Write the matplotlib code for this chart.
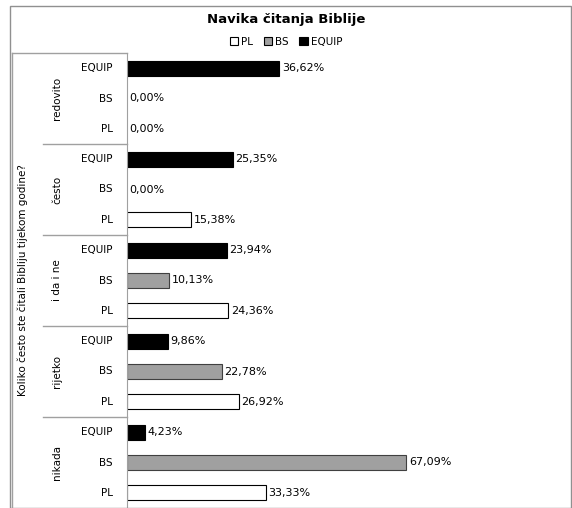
import numpy as np
import matplotlib.pyplot as plt
from matplotlib.lines import Line2D
from matplotlib.patches import Rectangle, Patch

groups = ['redovito', 'često', 'i da i ne', 'rijetko', 'nikada']
series = ['EQUIP', 'BS', 'PL']
equip = [36.62, 25.35, 23.94, 9.86, 4.23]
bs = [0.00, 0.00, 10.13, 22.78, 67.09]
pl = [0.00, 15.38, 24.36, 26.92, 33.33]
colors = {'EQUIP': 'black', 'BS': '#a0a0a0', 'PL': 'white'}

W, H = 572, 508
fig = plt.figure(figsize=(W / 100, H / 100), dpi=100)
fig.patch.set_facecolor('white')

ax_l, ax_r, ax_t, ax_b = 127, 560, 53, 508
ax = fig.add_axes([ax_l / W, 1 - ax_b / H, (ax_r - ax_l) / W, (ax_b - ax_t) / H])

vals = {'EQUIP': equip, 'BS': bs, 'PL': pl}
n = len(groups) * len(series)
for gi, g in enumerate(groups):
    for si, s in enumerate(series):
        y = gi * 3 + si
        v = vals[s][gi]
        if v > 0:
            ax.barh(y, v, height=0.5, color=colors[s], edgecolor='black' if s != 'BS' else '#404040',
                    linewidth=0.8)
        ax.text(v + 0.6, y, ('%.2f%%' % v).replace('.', ','), va='center', ha='left',
                fontsize=8, family='DejaVu Sans')

ax.set_ylim(n - 0.5, -0.5)
ax.set_xlim(0, 104)
ax.set_xticks([])
ax.set_yticks([])
for sp in ['top', 'right', 'bottom']:
    ax.spines[sp].set_visible(False)
ax.spines['left'].set_color('#a0a0a0')

# category table on the left
row_h = (ax_b - ax_t) / n
def fy(py):
    return 1 - py / H
def fx(px):
    return px / W

line_c = '#a0a0a0'
fig.add_artist(Line2D([fx(12), fx(12)], [fy(ax_t), fy(ax_b)], color=line_c, lw=1))
fig.add_artist(Line2D([fx(12), fx(ax_l)], [fy(ax_t), fy(ax_t)], color=line_c, lw=1))
for gi in range(1, len(groups)):
    py = ax_t + gi * 3 * row_h
    fig.add_artist(Line2D([fx(43), fx(ax_l)], [fy(py), fy(py)], color=line_c, lw=1))

for gi, g in enumerate(groups):
    for si, s in enumerate(series):
        py = ax_t + (gi * 3 + si + 0.5) * row_h
        fig.text(fx(113), fy(py), s, ha='right', va='center', fontsize=7.5)
    pyc = ax_t + (gi * 3 + 1.5) * row_h
    fig.text(fx(57), fy(pyc), g, ha='center', va='center', rotation=90, fontsize=7.5,
             family='Liberation Sans Narrow')

fig.text(fx(23), fy((ax_t + ax_b) / 2), 'Koliko često ste čitali Bibliju tijekom godine?',
         ha='center', va='center', rotation=90, fontsize=7.5, family='Liberation Sans Narrow')

# outer border
fig.add_artist(Rectangle((fx(10), 0), fx(W - 1) - fx(10), fy(6), fill=False,
                         edgecolor='#909090', lw=1))

fig.text(0.5, fy(20), 'Navika čitanja Biblije', ha='center', va='center',
         fontsize=9.5, fontweight='bold')
handles = [Patch(facecolor=colors[s], edgecolor='black', lw=0.8) for s in ['PL', 'BS', 'EQUIP']]
fig.legend(handles, ['PL', 'BS', 'EQUIP'], loc='center', bbox_to_anchor=(0.5, fy(42)),
           ncol=3, frameon=False, fontsize=7.5, handlelength=0.8, handleheight=0.8,
           handletextpad=0.3, columnspacing=1.0)

fig.savefig('out.png', dpi=100)
